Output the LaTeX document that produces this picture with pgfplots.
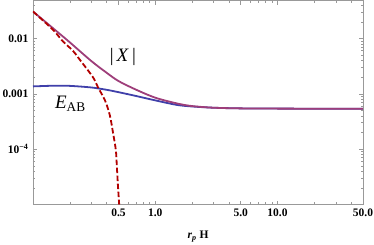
\documentclass[border=0pt]{standalone}
\usepackage{fontspec}
\setmainfont{Liberation Serif}
\usepackage{pgfplots}
\pgfplotsset{compat=1.18}
\definecolor{cX}{RGB}{158,62,122}
\definecolor{cE}{RGB}{64,64,170}
\definecolor{cR}{RGB}{178,0,0}
\pgfplotstableread{
x y
0.1 0.0306
0.15 0.0145
0.2 0.0085
0.3 0.0039
0.4 0.0024
0.5 0.0017
0.7 0.00118
1.0 0.00085
1.5 0.00067
2 0.0006
3 0.00056
5 0.000545
10 0.00054
50 0.000535
}\absX
\pgfplotstableread{
x y
0.1 0.00136
0.15 0.0014
0.2 0.00139
0.3 0.0013
0.4 0.00118
0.5 0.00107
0.7 0.00091
1.0 0.00076
1.5 0.00063
2 0.00059
3 0.00056
5 0.000545
10 0.00054
50 0.000535
}\Eab
\pgfplotstableread{
x y
0.1 0.0306
0.145 0.0145
0.176 0.0088
0.212 0.0060
0.242 0.0041
0.309 0.0020
0.34 0.00131
0.388 0.00076
0.425 0.00041
0.45 0.000205
0.476 9.6e-5
0.485 4.9e-5
0.494 2.4e-5
0.504 1.2e-5
0.507 1.0e-5
}\red
\begin{document}
\begin{tikzpicture}
\useasboundingbox (-33pt,-40pt) rectangle (341pt,204.5pt);
\begin{axis}[
  at={(0,0)}, anchor=south west,
  scale only axis, width=330pt, height=204pt,
  xmode=log, ymode=log,
  xmin=0.1, xmax=50, ymin=1e-5, ymax=0.0484,
  axis line style={black!40, line width=0.5pt},
  tick style={black!40, line width=0.5pt},
  major tick length=4pt, minor tick length=2.2pt,
  tick align=inside,
  xtick={0.5,1,5,10,50},
  xticklabels={0.5,1.0,5.0,10.0,50.0},
  minor xtick={0.2,0.3,0.4,0.6,0.7,0.8,0.9,2,3,4,6,7,8,9,20,30,40},
  ytick={1e-4,1e-3,1e-2},
  yticklabels={10\textsuperscript{−4},0.001,0.01},
  minor ytick={2e-5,3e-5,4e-5,5e-5,6e-5,7e-5,8e-5,9e-5,2e-4,3e-4,4e-4,5e-4,6e-4,7e-4,8e-4,9e-4,2e-3,3e-3,4e-3,5e-3,6e-3,7e-3,8e-3,9e-3,2e-2,3e-2,4e-2},
  ticklabel style={font=\bfseries\fontsize{11.5}{12}\selectfont, text=black},
  xticklabel style={yshift=-1pt},
  yticklabel style={xshift=-1pt},
  xlabel={\textbf{\textit{r}\textsubscript{\textit{p}} H}},
  every axis x label/.style={at={(axis description cs:0.5,0)}, anchor=center, yshift=-32pt, font=\fontsize{11.5}{12}\selectfont},
]
\addplot[cE, line width=1.8pt, smooth] table {\Eab};
\addplot[cX, line width=1.8pt, smooth] table {\absX};
\addplot[cR, line width=1.8pt, dash pattern=on 5.5pt off 2.5pt, smooth] table {\red};
\node[font=\fontsize{19}{20}\selectfont, anchor=center] at (axis cs:0.543,0.00455) {|\,\textit{X}\,|};
\node[font=\fontsize{19}{20}\selectfont, anchor=base west, inner sep=0pt] at (axis cs:0.151,0.000548) {\textit{E}\textsubscript{AB}};
\end{axis}
\end{tikzpicture}
\end{document}
